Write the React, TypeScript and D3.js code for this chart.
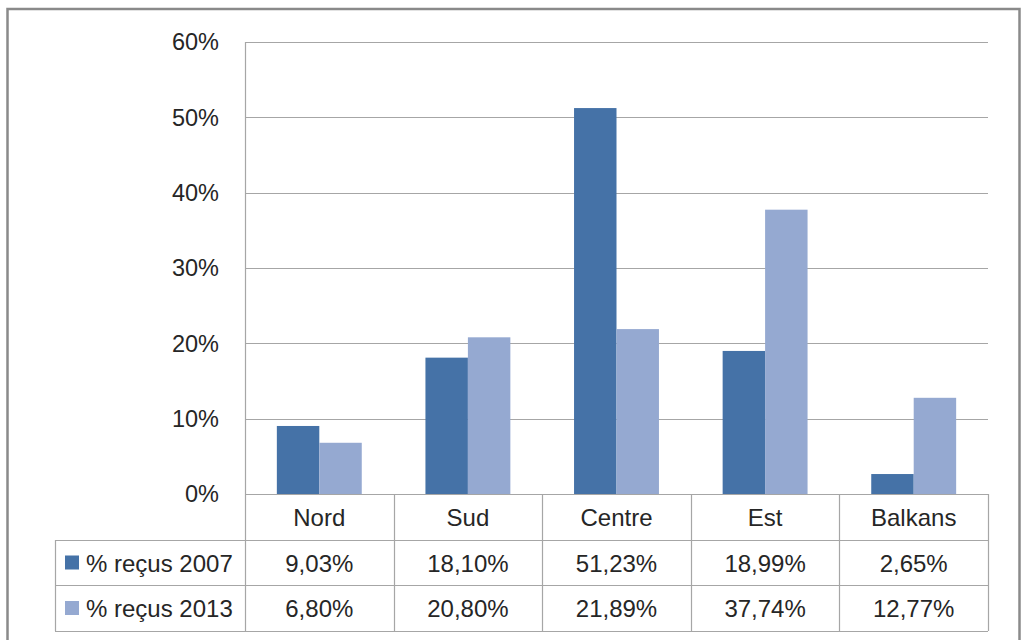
import { useEffect, useRef } from 'react';
import * as d3 from 'd3';

// Regions and series
const regions = ['Nord', 'Sud', 'Centre', 'Est', 'Balkans'];
const seriesNames = ['% reçus 2007', '% reçus 2013'];
const values2007 = [9.03, 18.1, 51.23, 18.99, 2.65];
const values2013 = [6.8, 20.8, 21.89, 37.74, 12.77];
const yTicks = [0, 10, 20, 30, 40, 50, 60];

const W = 1022;
const H = 640;
const colors = ['#4572a7', '#95a9d1'];
const FONT = '"Liberation Sans", Arial, sans-serif';
const TEXT = '#262626';

const fmt = (v: number) => v.toFixed(2).replace('.', ',') + '%';

export default function App() {
  const svgRef = useRef<SVGSVGElement>(null);

  useEffect(() => {
    if (!svgRef.current) return;
    const svg = d3.select(svgRef.current);
    svg.selectAll('*').remove();

    const plot = { left: 245, right: 988, top: 42, bottom: 494 };
    const tableLeft = 55;
    const rowH = [494, 540, 585, 631];

    // outer frame
    svg
      .append('rect')
      .attr('x', 7.5)
      .attr('y', 9)
      .attr('width', 1012)
      .attr('height', 660)
      .attr('fill', 'white')
      .attr('stroke', '#8a8a8a')
      .attr('stroke-width', 2.5);

    const x = d3.scaleBand<string>().domain(regions).range([plot.left, plot.right]);
    const y = d3.scaleLinear().domain([0, 60]).range([plot.bottom, plot.top]);

    // gridlines
    svg
      .append('g')
      .selectAll('line')
      .data(yTicks)
      .join('line')
      .attr('x1', plot.left)
      .attr('x2', plot.right)
      .attr('y1', (d) => Math.round(y(d)) + 0.5)
      .attr('y2', (d) => Math.round(y(d)) + 0.5)
      .attr('stroke', '#a6a6a6')
      .attr('stroke-width', 1.2);

    // tick labels
    svg
      .append('g')
      .selectAll('text')
      .data(yTicks)
      .join('text')
      .attr('x', 219)
      .attr('y', (d) => y(d))
      .attr('dy', '0.35em')
      .attr('text-anchor', 'end')
      .attr('font-family', FONT)
      .attr('font-size', 23.5)
      .attr('fill', TEXT)
      .text((d) => `${d}%`);

    // bars: gap width 150%
    const bw = x.bandwidth() / 3.5;
    const series = [values2007, values2013];
    series.forEach((vals, si) => {
      svg
        .append('g')
        .selectAll('rect')
        .data(vals)
        .join('rect')
        .attr('x', (_, i) => (x(regions[i]) ?? 0) + bw * 0.75 + si * bw)
        .attr('width', bw)
        .attr('y', (d) => y(d))
        .attr('height', (d) => plot.bottom - y(d))
        .attr('fill', colors[si]);
    });

    const lines = svg.append('g').attr('stroke', '#a6a6a6').attr('stroke-width', 1.2);

    // value axis line
    lines
      .append('line')
      .attr('x1', plot.left + 0.5)
      .attr('x2', plot.left + 0.5)
      .attr('y1', plot.top)
      .attr('y2', rowH[3]);

    // table horizontal lines
    rowH.slice(1).forEach((ry) => {
      lines
        .append('line')
        .attr('x1', tableLeft)
        .attr('x2', plot.right)
        .attr('y1', ry + 0.5)
        .attr('y2', ry + 0.5);
    });
    lines
      .append('line')
      .attr('x1', tableLeft + 0.5)
      .attr('x2', tableLeft + 0.5)
      .attr('y1', rowH[1])
      .attr('y2', rowH[3]);

    // category separators
    regions.forEach((r) => {
      const bx = (x(r) ?? 0) + x.bandwidth();
      lines
        .append('line')
        .attr('x1', Math.round(bx) + 0.5)
        .attr('x2', Math.round(bx) + 0.5)
        .attr('y1', plot.bottom)
        .attr('y2', rowH[3]);
    });

    const cellText = (tx: number, ty: number, s: string, anchor = 'middle') =>
      svg
        .append('text')
        .attr('x', tx)
        .attr('y', ty)
        .attr('dy', '0.35em')
        .attr('text-anchor', anchor)
        .attr('font-family', FONT)
        .attr('font-size', 24)
        .attr('fill', TEXT)
        .text(s);

    const mid = (i: number) => (rowH[i] + rowH[i + 1]) / 2;

    // header row
    regions.forEach((r) => cellText((x(r) ?? 0) + x.bandwidth() / 2, mid(0) + 1, r));

    // data rows with legend keys
    series.forEach((vals, si) => {
      const cy = mid(si + 1) + 1;
      svg
        .append('rect')
        .attr('x', 65)
        .attr('y', cy - 8)
        .attr('width', 14)
        .attr('height', 14)
        .attr('fill', colors[si]);
      cellText(86, cy, seriesNames[si], 'start');
      vals.forEach((v, i) => cellText((x(regions[i]) ?? 0) + x.bandwidth() / 2, cy, fmt(v)));
    });
  }, []);

  return (
    <div style={{ position: 'absolute', left: 0, top: 0, background: 'white' }}>
      <svg ref={svgRef} width={W} height={H} style={{ display: 'block' }} />
    </div>
  );
}
